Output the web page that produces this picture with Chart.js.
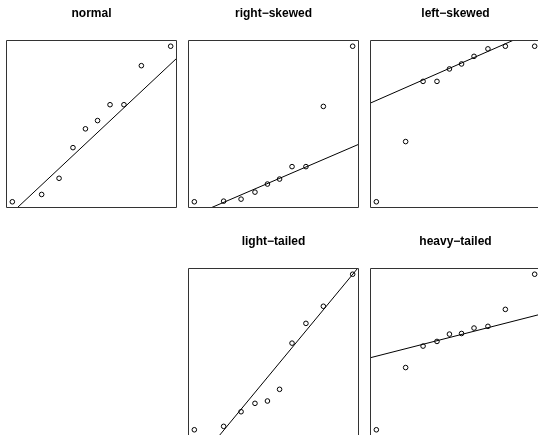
<!DOCTYPE html>
<html>
<head>
<meta charset="utf-8">
<script src="https://cdn.jsdelivr.net/npm/chart.js@4/dist/chart.umd.min.js"></script>
<style>
  html, body { margin: 0; padding: 0; background: #fff; overflow: hidden; width: 538px; height: 435px; }
  .panel { position: absolute; }
</style>
</head>
<body>
<canvas id="p0" class="panel"></canvas>
<canvas id="p1" class="panel"></canvas>
<canvas id="p2" class="panel"></canvas>
<canvas id="p3" class="panel"></canvas>
<canvas id="p4" class="panel"></canvas>
<script>
// Theoretical normal quantiles (x axis of every Q-Q panel)
const theoQuantiles = [-1.645, -1.036, -0.674, -0.385, -0.126, 0.126, 0.385, 0.674, 1.036, 1.645];

// Panel titles
const panelTitles = ['normal', 'right\u2212skewed', 'left\u2212skewed', 'light\u2212tailed', 'heavy\u2212tailed'];

// Sorted sample values (arbitrary units)
const normalSample  = [0, 0.47, 1.51, 3.48, 4.69, 5.22, 6.24, 6.24, 8.75, 10.0];
const rightSkewed   = [0, 0.04, 0.17, 0.62, 1.14, 1.46, 2.26, 2.26, 6.13, 10.0];
const leftSkewed    = [0, 3.87, 7.74, 7.74, 8.54, 8.86, 9.35, 9.83, 10.0, 10.0];
const lightTailed   = [0, 0.22, 1.16, 1.70, 1.85, 2.60, 5.57, 6.84, 7.94, 10.0];
const heavyTailed   = [0, 4.00, 5.38, 5.68, 6.15, 6.19, 6.54, 6.65, 7.74, 10.0];

// Reference (qq) lines: intercepts and slopes
const lineIntercepts = [4.09, 1.34, 8.75, 3.84, 6.03];
const lineSlopes     = [2.90, 1.33, 1.36, 3.74, 0.79];

const samples = [normalSample, rightSkewed, leftSkewed, lightTailed, heavyTailed];

// Layout (page positions of each panel canvas)
const panelLeft = [6, 188, 370, 188, 370];
const panelTop  = [0, 0, 0, 228, 228];
const panelW = 171, panelH = 208;

const boxPlugin = {
  id: 'box',
  afterDatasetsDraw(chart) {
    const a = chart.chartArea, ctx = chart.ctx;
    ctx.save();
    ctx.strokeStyle = '#333';
    ctx.lineWidth = 1;
    ctx.beginPath();
    ctx.rect(a.left + 0.5, a.top + 0.5, a.right - a.left - 1, a.bottom - a.top - 1);
    ctx.stroke();
    ctx.restore();
  }
};

function extRange(arr) {
  const mn = Math.min(...arr), mx = Math.max(...arr), r = mx - mn;
  return [mn - 0.04 * r, mx + 0.04 * r];
}

const xr = extRange(theoQuantiles);

samples.forEach((ys, i) => {
  const cv = document.getElementById('p' + i);
  cv.width = panelW; cv.height = panelH;
  cv.style.left = panelLeft[i] + 'px';
  cv.style.top = panelTop[i] + 'px';
  cv.style.width = panelW + 'px';
  cv.style.height = panelH + 'px';
  const yr = extRange(ys);
  const pts = theoQuantiles.map((q, k) => ({ x: q, y: ys[k] }));
  const a = lineIntercepts[i], b = lineSlopes[i];
  const lineData = [{ x: -3, y: a - 3 * b }, { x: 3, y: a + 3 * b }];
  new Chart(cv, {
    type: 'scatter',
    data: {
      datasets: [
        {
          data: pts,
          pointStyle: 'circle',
          pointRadius: 2.3,
          pointBorderWidth: 1,
          pointBorderColor: '#000',
          pointBackgroundColor: 'rgba(0,0,0,0)',
          showLine: false
        },
        {
          data: lineData,
          showLine: true,
          borderColor: '#000',
          borderWidth: 1,
          pointRadius: 0,
          fill: false
        }
      ]
    },
    options: {
      responsive: false,
      animation: false,
      devicePixelRatio: 1,
      events: [],
      layout: { padding: 0, autoPadding: false },
      plugins: {
        legend: { display: false },
        tooltip: { enabled: false },
        title: {
          display: true,
          text: panelTitles[i],
          color: '#000',
          font: { family: '"Liberation Sans", Arial, Helvetica, sans-serif', size: 12, weight: 'bold', lineHeight: 1.2 },
          padding: { top: 6, bottom: 19.6 }
        }
      },
      scales: {
        x: { type: 'linear', display: false, min: xr[0], max: xr[1] },
        y: { type: 'linear', display: false, min: yr[0], max: yr[1] }
      }
    },
    plugins: [boxPlugin]
  });
});
</script>
</body>
</html>
